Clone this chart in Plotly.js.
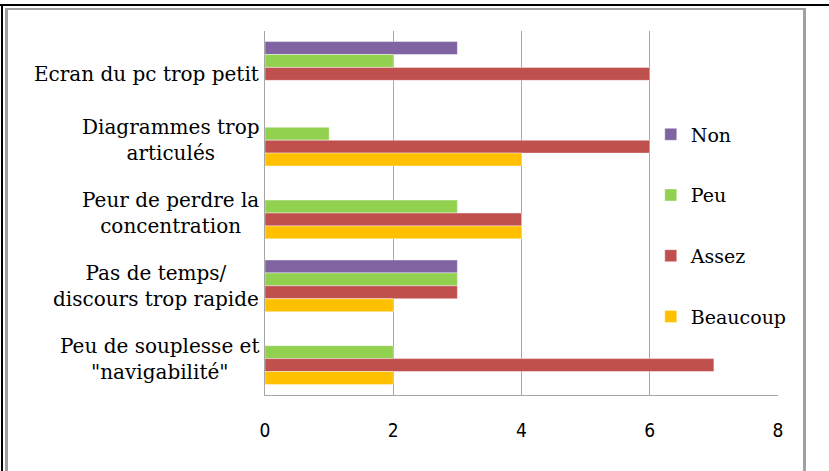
<!DOCTYPE html>
<html>
<head>
<meta charset="utf-8">
<script src="https://cdn.plot.ly/plotly-3.0.1.min.js"></script>
<style>
  html, body { margin: 0; padding: 0; background: #ffffff; }
  #wrap { position: relative; width: 829px; height: 471px; overflow: hidden; background: #fff; }
  #chart { position: absolute; left: 0; top: 0; width: 829px; height: 471px; }
  .frame { position: absolute; pointer-events: none; }
</style>
</head>
<body>
<div id="wrap">
  <div id="chart"></div>
  <div class="frame" style="left:0;top:4px;width:829px;height:2px;background:#000;"></div>
  <div class="frame" style="left:1px;top:4px;width:2px;height:467px;background:#000;"></div>
  <div class="frame" style="left:5px;top:8px;width:3px;height:463px;background:#a0a0a0;"></div>
  <div class="frame" style="left:5px;top:8px;width:801px;height:2px;background:#a0a0a0;"></div>
  <div class="frame" style="left:803px;top:8px;width:3px;height:463px;background:#a0a0a0;"></div>
</div>
<script>
// Categories from top to bottom
const categories = [
  "Ecran du pc trop petit",
  "Diagrammes trop articulés",
  "Peur de perdre la concentration",
  "Pas de temps/ discours trop rapide",
  "Peu de souplesse et \"navigabilité\""
];
const categoryLabels = [
  "Ecran du pc trop petit",
  "Diagrammes trop<br>articulés",
  "Peur de perdre la<br>concentration",
  "Pas de temps/<br>discours trop rapide",
  "Peu de souplesse et<br>\"navigabilité\""
];
const seriesNames = ["Non", "Peu", "Assez", "Beaucoup"];
const nonValues      = [3, 0, 0, 3, 0];
const peuValues      = [2, 1, 3, 3, 2];
const assezValues    = [6, 6, 4, 3, 7];
const beaucoupValues = [0, 4, 4, 2, 2];
const xTicks = [0, 2, 4, 6, 8];

const colors = ["#8064A2", "#92D050", "#C0504D", "#FFC000"];
const allValues = [nonValues, peuValues, assezValues, beaucoupValues];

const serif = "DejaVu Serif, Liberation Serif, serif";

const traces = seriesNames.map((name, i) => ({
  type: "bar",
  orientation: "h",
  name: name,
  y: categories,
  x: allValues[i],
  legendgroup: name,
  marker: { color: colors[i], line: { color: "rgba(255,255,255,0.7)", width: 0.6 } },
  hoverinfo: "x+name"
}));

const annotations = categories.map((c, i) => ({
  xref: "paper", yref: "y",
  x: -0.008, y: c,
  xanchor: "right", yanchor: "middle",
  align: "center",
  text: categoryLabels[i],
  showarrow: false,
  yshift: i === 0 ? -7 : 0,
  font: { family: serif, size: 20, color: "#000" }
}));

const layout = {
  width: 829, height: 471,
  margin: { l: 265, r: 51, t: 31, b: 76, pad: 0 },
  paper_bgcolor: "rgba(0,0,0,0)",
  plot_bgcolor: "rgba(0,0,0,0)",
  barmode: "group",
  bargap: 0.29,
  bargroupgap: 0,
  showlegend: true,
  legend: {
    x: 0.752, xanchor: "left",
    y: 0.768, yanchor: "top",
    bgcolor: "rgba(0,0,0,0)",
    traceorder: "grouped",
    tracegroupgap: 33,
    font: { family: serif, size: 19, color: "#000" },
    itemwidth: 30
  },
  xaxis: {
    range: [0, 8],
    tickvals: xTicks,
    ticktext: xTicks.map(String),
    showgrid: true,
    gridcolor: "#a6a6a6",
    gridwidth: 1.3,
    zeroline: false,
    showline: true,
    linecolor: "#a6a6a6",
    linewidth: 1.3,
    ticks: "",
    ticklabelstandoff: 18,
    tickfont: { family: "Liberation Sans Narrow, DejaVu Sans Condensed, Liberation Sans, sans-serif", size: 19, color: "#000" }
  },
  yaxis: {
    type: "category",
    categoryorder: "array",
    categoryarray: categories,
    autorange: "reversed",
    showticklabels: false,
    showgrid: false,
    zeroline: false,
    showline: true,
    linecolor: "#a6a6a6",
    linewidth: 1.3,
    ticks: ""
  },
  annotations: annotations
};

Plotly.newPlot("chart", traces, layout, { displayModeBar: false, staticPlot: true });
</script>
</body>
</html>
